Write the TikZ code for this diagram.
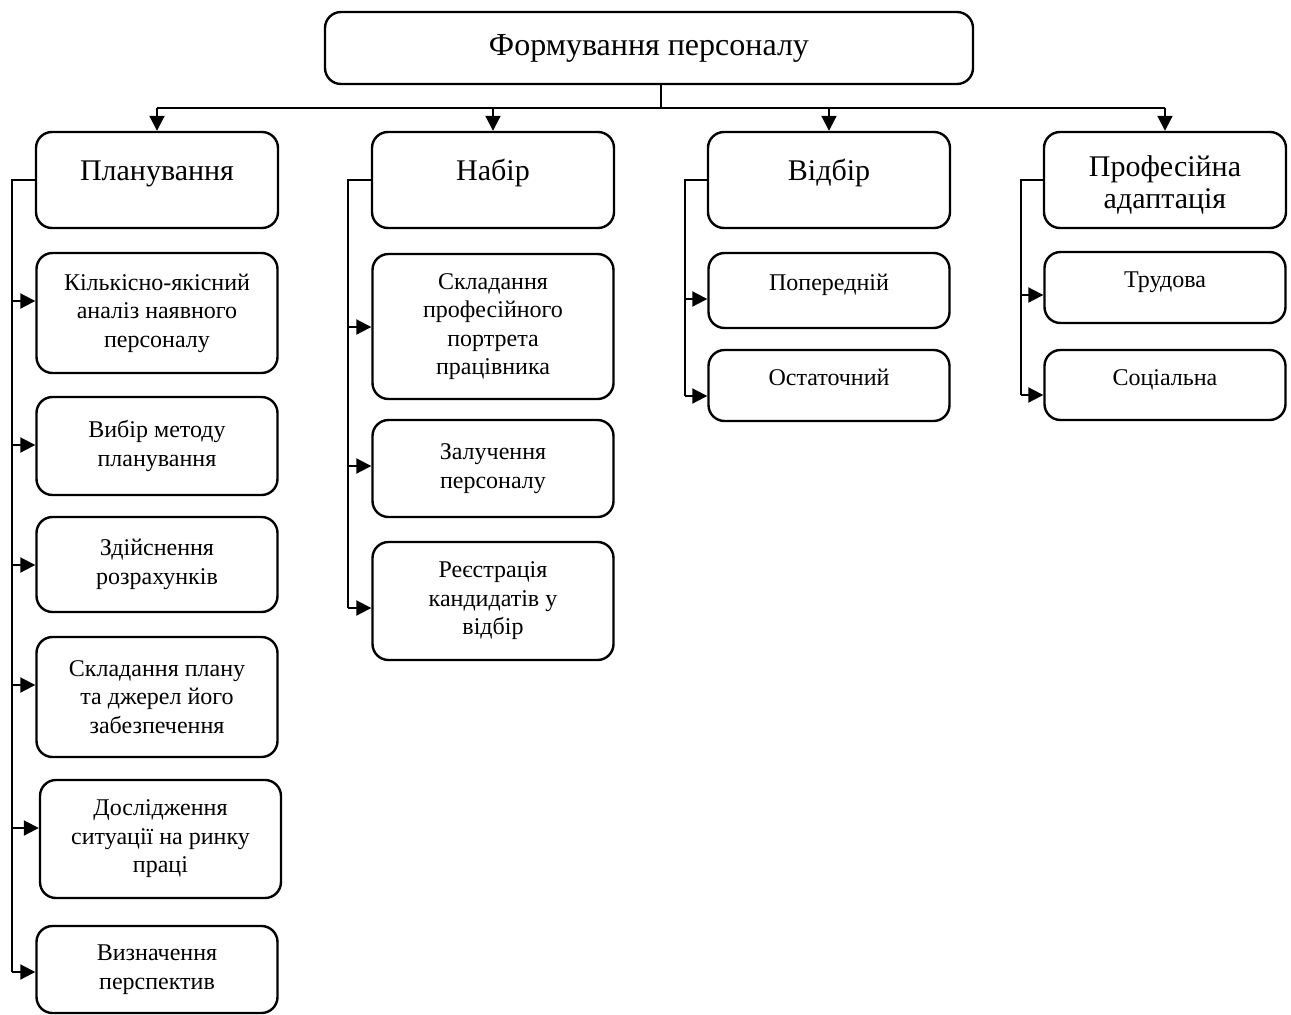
\documentclass[tikz,border=0pt]{standalone}
\usepackage{fontspec}
\setmainfont{Liberation Serif}
\usetikzlibrary{arrows.meta}
\begin{document}
\begin{tikzpicture}[x=1pt,y=-1pt,
 box/.style={draw, line width=2.4pt, rounded corners=16pt, align=center, inner sep=0pt},
 sub/.style={box, font=\fontsize{24}{28.5}\selectfont, minimum width=241pt},
 head/.style={box, font=\fontsize{30}{32}\selectfont, minimum width=242pt, minimum height=96pt},
 onebig/.style={text height=20pt, text depth=20pt},
 onesmall/.style={text height=16pt, text depth=16pt},
 ln/.style={line width=2pt},
 arr/.style={ln, -{Triangle[length=15pt,width=15pt]}}]
\useasboundingbox (0,0) rectangle (1291,1015);

% top
\node[box, font=\fontsize{32}{36}\selectfont, minimum width=648pt, minimum height=72pt] (top) at (649,48) {Формування персоналу};

% column heads
\node[head, onebig] (pl) at (157,180) {Планування};
\node[head, onebig] (nb) at (493,180) {Набір};
\node[head, onebig] (vb) at (829,180) {Відбір};
\node[head] (pa) at (1165,180) {\raisebox{-6pt}[\height][\depth]{\begin{tabular}{@{}c@{}}Професійна\\адаптація\end{tabular}}};

% planning subs
\node[sub, minimum height=120pt] (p1) at (157,313) {Кількісно-якісний\\аналіз наявного\\персоналу};
\node[sub, minimum height=98pt] (p2) at (157,446) {Вибір методу\\планування};
\node[sub, minimum height=95pt] (p3) at (157,564.5) {Здійснення\\розрахунків};
\node[sub, minimum height=120pt] (p4) at (157,697) {Складання плану\\та джерел його\\забезпечення};
\node[sub, minimum height=118pt] (p5) at (160.5,839) {Дослідження\\ситуації на ринку\\праці};
\node[sub, minimum height=87pt] (p6) at (157,969.5) {Визначення\\перспектив};

% nabir subs
\node[sub, minimum height=145pt] (n1) at (493,326.5) {Складання\\професійного\\портрета\\працівника};
\node[sub, minimum height=97pt] (n2) at (493,468.5) {Залучення\\персоналу};
\node[sub, minimum height=118pt] (n3) at (493,601) {Реєстрація\\кандидатів у\\відбір};

% vidbir subs
\node[sub, onesmall, minimum height=75pt] (v1) at (829,290.5) {Попередній};
\node[sub, onesmall, minimum height=71pt] (v2) at (829,385.5) {Остаточний};

% adaptation subs
\node[sub, onesmall, minimum height=71pt] (a1) at (1165,287.5) {Трудова};
\node[sub, onesmall, minimum height=70pt] (a2) at (1165,385) {Соціальна};

% top connectors
\coordinate (tr) at (661,108);
\draw[ln] (tr |- top.south) -- (tr);
\draw[ln] (pl.north |- tr) -- (pa.north |- tr);
\foreach \n in {pl,nb,vb,pa} \draw[arr] (\n.north |- tr) -- (\n.north);

% brackets
\coordinate (bpl) at (12,180);
\coordinate (bnb) at (348,180);
\coordinate (bvb) at (685,180);
\coordinate (bpa) at (1021,180);

\coordinate (ap1) at (p1.west |- 0,301);
\coordinate (ap2) at (p2.west |- 0,445);
\coordinate (ap3) at (p3.west |- 0,565);
\coordinate (ap4) at (p4.west |- 0,685);
\coordinate (ap5) at (p5.west |- 0,828);
\coordinate (ap6) at (p6.west |- 0,972);
\draw[ln] (pl.west) -- (bpl) -- (bpl |- ap6);
\foreach \a in {ap1,ap2,ap3,ap4,ap5,ap6} \draw[arr] (bpl |- \a) -- (\a);

\coordinate (an1) at (n1.west |- 0,327);
\coordinate (an2) at (n2.west |- 0,466);
\coordinate (an3) at (n3.west |- 0,608);
\draw[ln] (nb.west) -- (bnb) -- (bnb |- an3);
\foreach \a in {an1,an2,an3} \draw[arr] (bnb |- \a) -- (\a);

\coordinate (av1) at (v1.west |- 0,299);
\coordinate (av2) at (v2.west |- 0,396);
\draw[ln] (vb.west) -- (bvb) -- (bvb |- av2);
\foreach \a in {av1,av2} \draw[arr] (bvb |- \a) -- (\a);

\coordinate (aa1) at (a1.west |- 0,295);
\coordinate (aa2) at (a2.west |- 0,395);
\draw[ln] (pa.west) -- (bpa) -- (bpa |- aa2);
\foreach \a in {aa1,aa2} \draw[arr] (bpa |- \a) -- (\a);
\end{tikzpicture}
\end{document}
